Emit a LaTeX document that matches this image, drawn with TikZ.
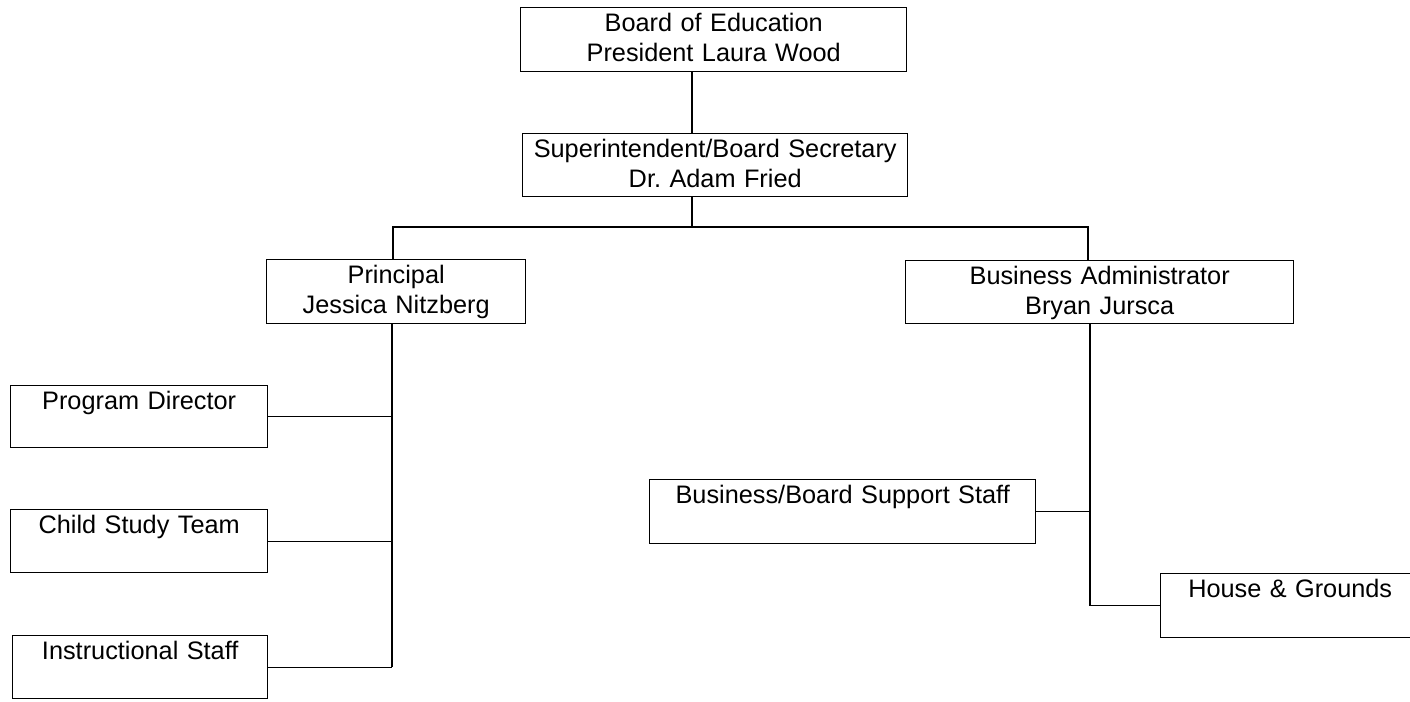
\documentclass[tikz,border=0pt]{standalone}
\usepackage{fontspec}
\setmainfont{Liberation Sans}
\frenchspacing
\newcommand\orgfont{\fontsize{25.3}{30.5}\selectfont}
\tikzset{
  orgbox/.style={draw=black, line width=1.4pt, inner sep=0pt, anchor=north west,
    align=center, font=\orgfont, text height=23.5pt},
  link/.style={draw=black, line width=1.4pt}
}
\begin{document}
\begin{tikzpicture}[x=1pt,y=-1pt]
\useasboundingbox (0,0) rectangle (1410,701);
\fill[white] (0,0) rectangle (1410,701);
\clip (0,0) rectangle (1410,701);

\node[orgbox, text width=386pt, text depth=40.5pt] (board) at (520,7) {Board of Education\\President Laura Wood};
\node[orgbox, text width=385pt, text depth=39.5pt] (super) at (522,133) {Superintendent/Board Secretary\\Dr.\ Adam Fried};
\node[orgbox, text width=259pt, text depth=40.5pt] (principal) at (266,259) {Principal\\Jessica Nitzberg};
\node[orgbox, text width=388pt, text depth=39.5pt] (ba) at (905,260) {Business Administrator\\Bryan Jursca};
\node[orgbox, text width=257pt, text depth=38.5pt] (pd) at (10,385) {Program Director};
\node[orgbox, text width=257pt, text depth=39.5pt] (cst) at (10,509) {Child Study Team};
\node[orgbox, text width=255pt, text depth=39.5pt] (is) at (12,635) {Instructional Staff};
\node[orgbox, text width=386pt, text depth=40.5pt] (bss) at (649,479) {Business/Board Support Staff};
\node[orgbox, text width=259pt, text depth=40.5pt] (hg) at (1160,573) {House \& Grounds};

\coordinate (j1) at (692,227);
\coordinate (bl) at (393,227);
\coordinate (br) at (1088,227);
\coordinate (pv) at (392,0);
\coordinate (bv) at (1090,0);

\draw[link] (board.south -| j1) -- (super.north -| j1);
\draw[link] (super.south -| j1) -- (j1);
\draw[link] (principal.north -| bl) -- (bl) -- (br) -- (ba.north -| br);

\draw[link] (principal.south -| pv) -- (is.east -| pv);
\draw[link] (pd.east) -- (pd.east -| pv);
\draw[link] (cst.east) -- (cst.east -| pv);
\draw[link] (is.east) -- (is.east -| pv);

\draw[link] (ba.south -| bv) -- (hg.west -| bv) -- (hg.west);
\draw[link] (bss.east) -- (bss.east -| bv);
\end{tikzpicture}
\end{document}
